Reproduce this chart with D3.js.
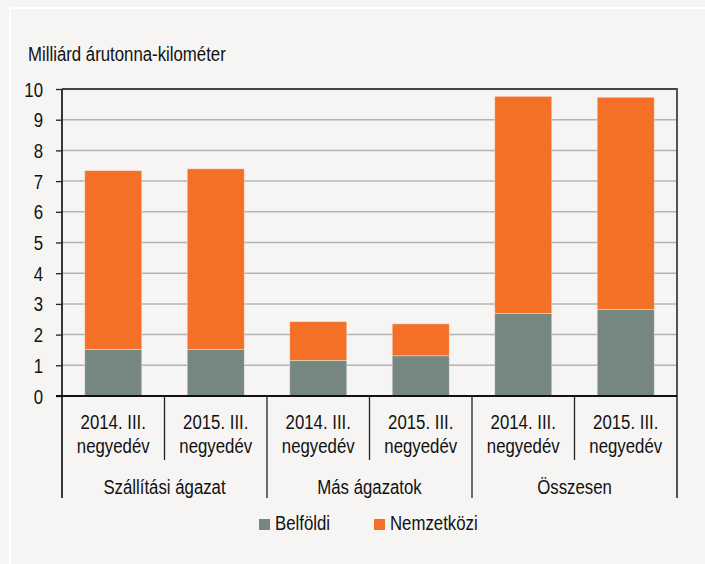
<!DOCTYPE html>
<html><head><meta charset="utf-8">
<script src="https://cdn.jsdelivr.net/npm/d3@7"></script>
<style>
body{margin:0;background:#f6f5f3;}
svg{display:block;}
text{font-family:"Liberation Sans",Arial,sans-serif;fill:#111;}
</style></head><body>
<svg id="c" width="705" height="564"></svg>
<script>
const groups = ["Szállítási ágazat", "Más ágazatok", "Összesen"];
const periods = ["2014. III.", "2015. III."];
const periodSuffix = "negyedév";
const belfoldi = [1.52, 1.52, 1.16, 1.31, 2.69, 2.82];
const nemzetkozi = [5.82, 5.88, 1.26, 1.04, 7.07, 6.91];
const yTicks = [0,1,2,3,4,5,6,7,8,9,10];
const seriesNames = ["Belföldi", "Nemzetközi"];
const colors = ["#76877f", "#f47026"];
const unitLabel = "Milliárd árutonna-kilométer";

const svg = d3.select("#c");
const L = 62, R = 677, T = 89, B = 396;
const FS = 21, SX = 0.8;

function txt(x, y, s, anchor){
  return svg.append("text")
    .attr("transform", `translate(${x},${y}) scale(${SX},1)`)
    .attr("text-anchor", anchor || "start")
    .attr("font-size", FS)
    .text(s);
}

// outer frame highlight
svg.append("path").attr("d","M10,564 L10,8 L705,8").attr("fill","none").attr("stroke","#fff").attr("stroke-width",2);

const bars = [];
groups.forEach((g,gi)=>periods.forEach((p,pi)=>{
  const i = gi*2+pi;
  bars.push({key:i, group:g, period:p, b:belfoldi[i], n:nemzetkozi[i]});
}));

const x = d3.scaleBand().domain(bars.map(d=>d.key)).range([L,R]).paddingInner(0.444).paddingOuter(0.222);
const xs = d3.scaleBand().domain(bars.map(d=>d.key)).range([L,R]);
const y = d3.scaleLinear().domain([0,10]).range([B,T]);

// gridlines
svg.append("g").selectAll("line").data(yTicks.filter(t=>t>0&&t<10)).join("line")
  .attr("x1",L).attr("x2",R).attr("y1",d=>y(d)).attr("y2",d=>y(d))
  .attr("stroke","#b4b4b4").attr("stroke-width",1.5);

// bars
const stack = d3.stack().keys(["b","n"])(bars);
svg.append("g").selectAll("g").data(stack).join("g").attr("fill",(d,i)=>colors[i])
  .selectAll("rect").data(d=>d).join("rect")
  .attr("x",d=>x(d.data.key)).attr("width",x.bandwidth())
  .attr("y",d=>y(d[1])).attr("height",d=>y(d[0])-y(d[1]))
  .attr("stroke","#f6f5f3").attr("stroke-opacity",0.5).attr("stroke-width",0.8);

// frame top/right
svg.append("path").attr("d",`M${L},${T} L${R},${T} L${R},498`).attr("fill","none").attr("stroke","#444").attr("stroke-width",1.8);

// y axis ticks via d3 axis (labels drawn condensed)
const ya = d3.axisLeft(y).tickValues(yTicks).tickSize(6).tickFormat("");
const yg = svg.append("g").attr("transform",`translate(${L},0)`).call(ya);
yg.select(".domain").remove();
yg.selectAll("line").attr("stroke","#222").attr("stroke-width",1.3);
yTicks.forEach(t=>txt(43, y(t)+7.5, d3.format("d")(t), "end"));
svg.append("line").attr("x1",L).attr("x2",L).attr("y1",T).attr("y2",498).attr("stroke","#222").attr("stroke-width",1.8);

// x axis line
svg.append("line").attr("x1",L-6).attr("x2",R).attr("y1",B).attr("y2",B).attr("stroke","#111").attr("stroke-width",2);

// category separators
bars.forEach((d,i)=>{
  if(i===0) return;
  const xx = xs(d.key);
  const isGroup = i%2===0;
  svg.append("line").attr("x1",xx).attr("x2",xx).attr("y1",B).attr("y2",isGroup?498:460)
    .attr("stroke","#222").attr("stroke-width",1.3);
});

// category labels
bars.forEach(d=>{
  const cx = xs(d.key)+xs.bandwidth()/2;
  txt(cx, 429, d.period, "middle");
  txt(cx, 453, periodSuffix, "middle");
});
groups.forEach((g,gi)=>{
  const cx = xs(gi*2) + xs.bandwidth();
  txt(cx, 494, g, "middle");
});

// unit label
txt(28, 61, unitLabel);

// legend
const legX = [259, 374];
seriesNames.forEach((s,i)=>{
  svg.append("rect").attr("x",legX[i]).attr("y",519).attr("width",11).attr("height",11).attr("fill",colors[i]);
  txt(legX[i]+16, 530, s);
});
</script>
</body></html>
